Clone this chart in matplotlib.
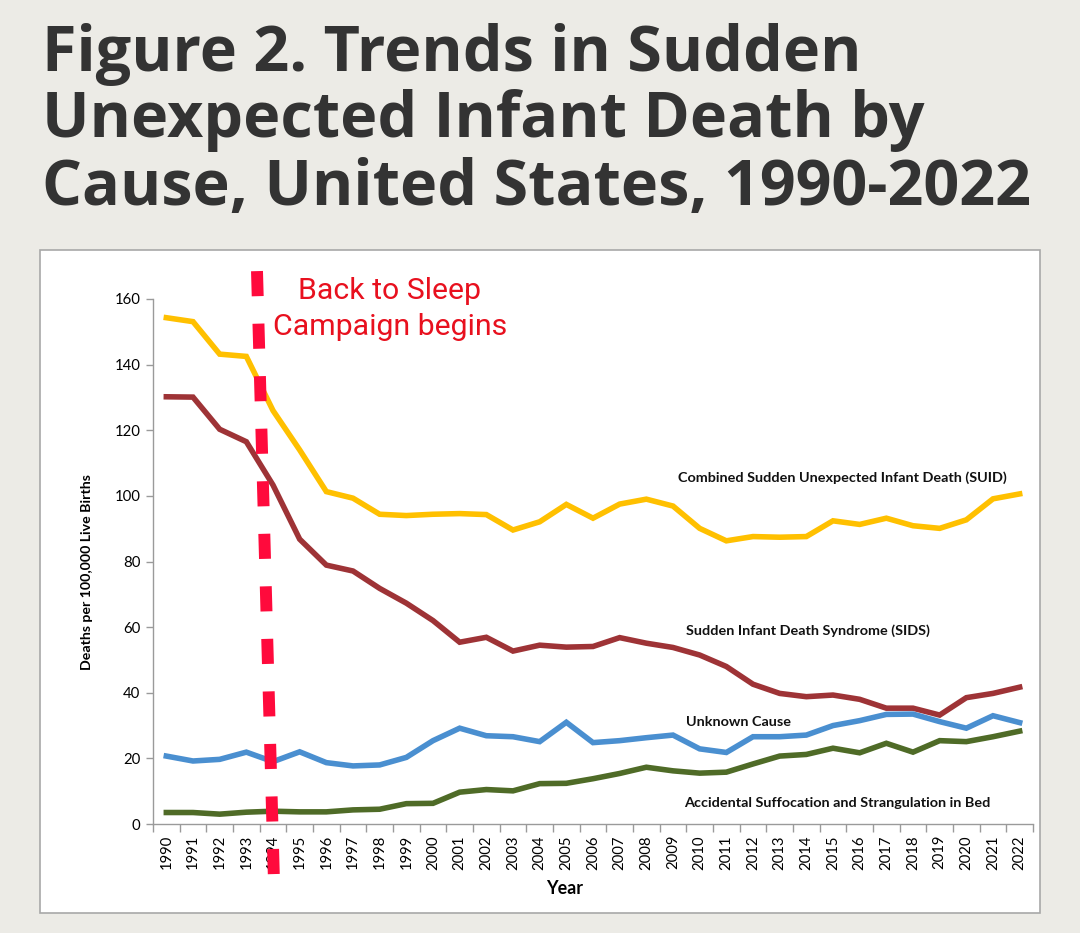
import numpy as np
import matplotlib
matplotlib.use('Agg')
import matplotlib.pyplot as plt
from matplotlib.patches import Rectangle
from matplotlib.lines import Line2D

# Trendy SUID wg przyczyny, USA 1990-2022
years = list(range(1990, 2023))

suid = [154.3, 153.1, 143.2, 142.5, 126.0, 114.0, 101.3, 99.3, 94.4, 94.0,
        94.4, 94.6, 94.3, 89.6, 92.1, 97.4, 93.2, 97.5, 99.0, 96.9,
        90.1, 86.3, 87.6, 87.4, 87.6, 92.4, 91.3, 93.2, 90.9, 90.1,
        92.7, 99.1, 100.6]
sids = [130.2, 130.1, 120.3, 116.5, 103.3, 86.8, 78.9, 77.1, 71.8, 67.3,
        62.0, 55.4, 56.9, 52.7, 54.5, 53.9, 54.1, 56.8, 55.1, 53.8,
        51.5, 48.0, 42.6, 39.8, 38.8, 39.3, 38.0, 35.3, 35.3, 33.2,
        38.5, 39.8, 41.7]
unknown = [20.7, 19.2, 19.7, 21.9, 19.0, 22.0, 18.7, 17.7, 18.0, 20.3,
           25.4, 29.2, 26.9, 26.6, 25.1, 31.0, 24.8, 25.4, 26.3, 27.1,
           22.9, 21.8, 26.6, 26.6, 27.1, 30.0, 31.5, 33.4, 33.5, 31.2,
           29.2, 33.0, 30.9]
asb = [3.5, 3.5, 3.0, 3.6, 3.9, 3.7, 3.7, 4.3, 4.5, 6.2,
       6.3, 9.7, 10.5, 10.1, 12.3, 12.4, 13.8, 15.4, 17.3, 16.2,
       15.5, 15.8, 18.3, 20.7, 21.2, 23.1, 21.7, 24.6, 21.9, 25.4,
       25.1, 26.6, 28.3]

series_names = ['Combined Sudden Unexpected Infant Death (SUID)',
                'Sudden Infant Death Syndrome (SIDS)',
                'Unknown Cause',
                'Accidental Suffocation and Strangulation in Bed']
colors = ['#FFC000', '#9E3336', '#4A8FD0', '#4F6B27']

title_lines = ['Figure 2. Trends in Sudden',
               'Unexpected Infant Death by',
               'Cause, United States, 1990-2022']

W, H = 1080, 933
fig = plt.figure(figsize=(W / 100, H / 100), dpi=100)
fig.patch.set_facecolor('#ecebe6')

# biały panel wykresu
fig.patches.append(Rectangle((40 / W, 1 - 913 / H), 1000 / W, 663 / H,
                             transform=fig.transFigure, facecolor='white',
                             edgecolor='#a8a8a8', linewidth=1.2, zorder=-1))

for line, base in zip(title_lines, [71, 137, 205]):
    fig.text(42 / W, 1 - base / H, line, fontsize=45.3, fontweight='bold',
             family='Open Sans', color='#333333', va='baseline', ha='left')

ax = fig.add_axes([153 / W, 1 - 824 / H, 880 / W, 525 / H])
ax.set_zorder(2)
ax.set_facecolor('none')

for vals, c in zip([suid, sids, unknown, asb], colors):
    ax.plot(years, vals, color=c, linewidth=4, solid_joinstyle='miter', zorder=3)

ax.set_xlim(1989.5, 2022.5)
ax.set_ylim(0, 160)
ax.set_yticks(range(0, 161, 20))
ax.set_xticks(years)
ax.set_xticklabels([str(y) for y in years], rotation=90)
ax.set_xticks(np.arange(1989.5, 2023, 1), minor=True)
ax.tick_params(axis='x', which='major', length=0, pad=8, labelsize=10.7)
ax.tick_params(axis='x', which='minor', length=6, width=1, color='#9a9a9a')
ax.tick_params(axis='y', length=5, width=1, color='#9a9a9a', labelsize=10.7, pad=4)
for lab in ax.get_xticklabels() + ax.get_yticklabels():
    lab.set_family('Lato')
for s in ['top', 'right']:
    ax.spines[s].set_visible(False)
for s in ['left', 'bottom']:
    ax.spines[s].set_color('#9a9a9a')
    ax.spines[s].set_linewidth(1)

label_pos = [(2009.2, 105.5), (2009.5, 58.8), (2009.5, 31.1), (2009.4, 6.4)]
for name, (lx, ly) in zip(series_names, label_pos):
    ax.text(lx, ly, name, fontsize=10.4, fontweight='bold', family='Lato',
            color='#111111', ha='left', va='center')

fig.text(87 / W, 1 - 572 / H, 'Deaths per 100,000 Live Births', rotation=90,
         fontsize=10.2, fontweight='bold', family='Lato', ha='center', va='center')
fig.text(565 / W, 1 - 888 / H, 'Year', fontsize=12.9, fontweight='bold',
         family='Lato', ha='center', va='center')

# czerwona przerywana linia - start kampanii
ax.add_line(Line2D([1993.40, 1994.03], [168.5, -15.5], color='#ff0a3c',
                   linewidth=8.6, linestyle=(0, (2.1, 2.3)),
                   dash_capstyle='butt', clip_on=False, zorder=5))
fig.text(390 / W, 1 - 309 / H, 'Back to Sleep\nCampaign begins', fontsize=21.8,
         family='Roboto', color='#e8101e', ha='center', va='center',
         linespacing=1.35)

fig.savefig('out.png', dpi=100, facecolor=fig.get_facecolor())
